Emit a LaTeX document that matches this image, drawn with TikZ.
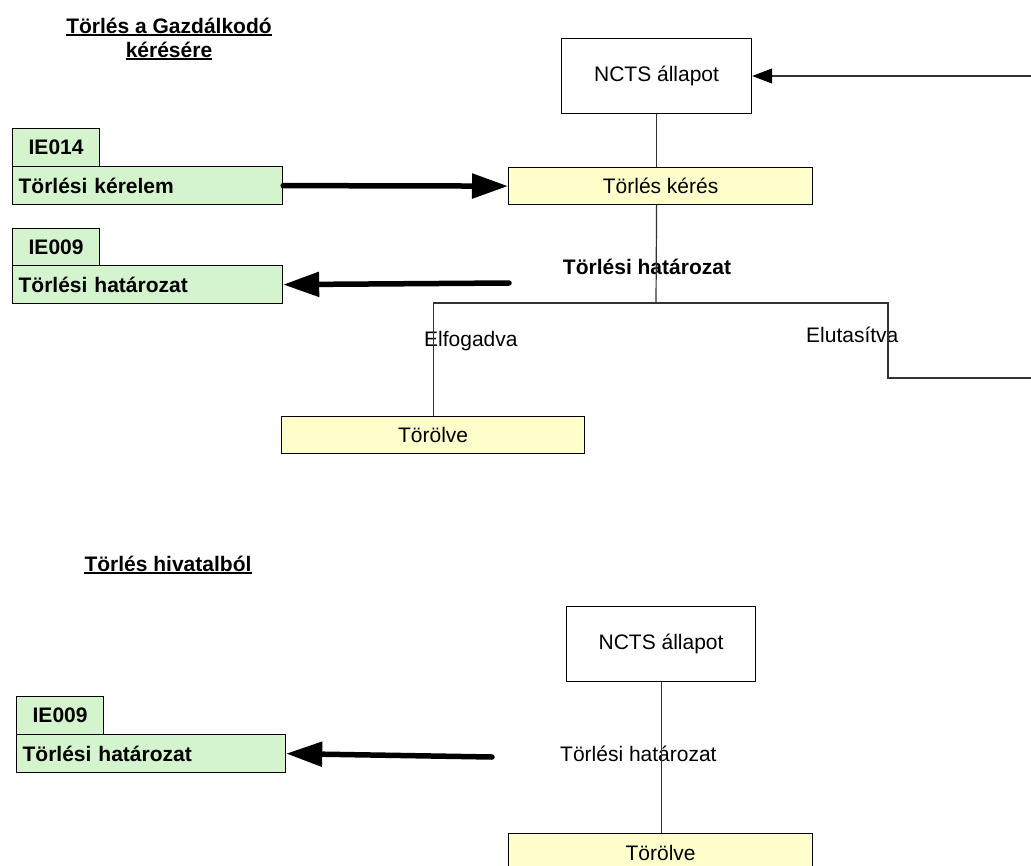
\documentclass[tikz,border=0pt]{standalone}
\usepackage{fontspec}
\setmainfont{Liberation Sans}
\usetikzlibrary{arrows.meta}
\definecolor{greenfill}{RGB}{212,244,206}
\definecolor{yellowfill}{RGB}{255,255,204}
\definecolor{linegray}{RGB}{50,50,50}
\tikzset{
  every node/.style={font=\fontsize{21}{25}\selectfont},
  boxbase/.style={draw=black, line width=1.2pt, inner sep=0pt, anchor=north west},
  msgtab/.style={boxbase, fill=greenfill, font=\fontsize{21}{25}\selectfont\bfseries, minimum width=87, minimum height=38},
  msgbox/.style={boxbase, fill=greenfill, font=\fontsize{21}{25}\selectfont\bfseries, minimum height=38, inner xsep=6pt, align=left},
  statebox/.style={boxbase, fill=yellowfill, minimum height=37},
  nctsbox/.style={boxbase, fill=white, minimum width=190, minimum height=75},
  conn/.style={draw=linegray, line width=1.2pt},
  bigarrow/.style={draw=black, line width=5.5pt, line cap=round, -{Triangle[length=36pt,width=24pt]}},
  smallarrow/.style={-{Triangle[length=20pt,width=15pt,fill=black,color=black]}},
  plainlabel/.style={inner sep=0pt, anchor=base west},
  ttl/.style={inner sep=0pt, anchor=base, font=\fontsize{21}{25}\selectfont\bfseries},
}
\begin{document}
\begin{tikzpicture}[x=1pt,y=-1pt]
\useasboundingbox (0,0) rectangle (1031,865);

% ---------- top section ----------
\node[ttl] (title1a) at (169,33) {Törlés a Gazdálkodó};
\node[ttl] (title1b) at (169,57) {kérésére};
\draw[line width=1.4pt] ([yshift=-2pt]title1a.base west) -- ([yshift=-2pt]title1a.base east);
\draw[line width=1.4pt] ([yshift=-2pt]title1b.base west) -- ([yshift=-2pt]title1b.base east);

\node[msgtab] (ie014) at (12,128) {IE014};
\node[msgbox, text width=258pt] (kerelem) at (12,166) {Törlési kérelem};
\node[msgtab] (ie009a) at (12,228) {IE009};
\node[msgbox, text width=258pt] (hat1) at (12,265) {Törlési határozat};

\node[nctsbox] (ncts1) at (561,38) {NCTS állapot};
\node[statebox, minimum width=304] (keres) at (508,167) {Törlés kérés};
\node[statebox, minimum width=303] (torolve1) at (281,416) {Törölve};

\node[inner sep=0pt, anchor=base, font=\fontsize{21}{25}\selectfont\bfseries] (hatlabel1) at (647,274) {Törlési határozat};
\node[plainlabel] (elfog) at (424,346) {Elfogadva};
\node[plainlabel] (elut) at (806,342) {Elutasítva};

\coordinate (br) at (656,303);
\coordinate (brR) at (888,303);
\coordinate (brRd) at (888,378);
\coordinate (offA) at (1045,378);
\coordinate (offB) at (1045,76);
\coordinate (a1) at (509,283);

\draw[conn] (ncts1.south) -- (ncts1.south |- keres.north);
\draw[conn] (ncts1.south |- keres.south) -- (br);
\draw[conn] (torolve1.north) |- (brR) -- (brRd) -- (offA) -- (offB);
\draw[conn, smallarrow] (offB) -- (ncts1.east |- offB);

\draw[bigarrow] (kerelem.east) -- (keres.west);
\draw[bigarrow] (a1) -- (hat1.east);

% ---------- bottom section ----------
\node[ttl] (title2) at (168,571) {Törlés hivatalból};
\draw[line width=1.4pt] ([yshift=-2pt]title2.base west) -- ([yshift=-2pt]title2.base east);

\node[msgtab] (ie009b) at (16,696) {IE009};
\node[msgbox, text width=257pt] (hat2) at (16,734) {Törlési határozat};

\node[nctsbox, minimum width=189] (ncts2) at (566,606) {NCTS állapot};
\node[statebox, minimum width=304, minimum height=38] (torolve2) at (508,833) {Törölve};
\node[plainlabel] (hatlabel2) at (560,761) {Törlési határozat};

\coordinate (a2) at (492,757);
\draw[conn] (ncts2.south) -- (ncts2.south |- torolve2.north);
\draw[bigarrow] (a2) -- (hat2.east);
\end{tikzpicture}
\end{document}
